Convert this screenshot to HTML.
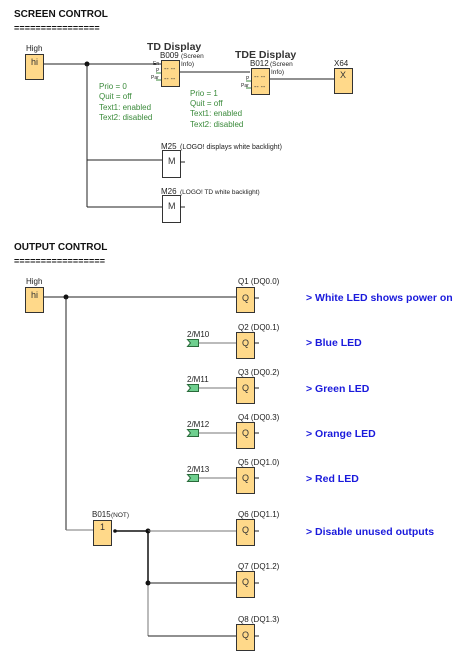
<!DOCTYPE html>
<html><head><meta charset="utf-8"><style>
html,body{margin:0;padding:0;background:#fff;}
svg{display:block;font-family:"Liberation Sans",Arial,sans-serif;}
.t{font-size:10px;font-weight:bold;fill:#111}
.eq{font-size:9px;font-weight:bold;fill:#111;letter-spacing:0.1px}
.l{font-size:8px;fill:#222}
.s{font-size:6.5px;fill:#222}
.g{font-size:8px;fill:#3a8a3a}
.b{font-size:10.5px;font-weight:bold;fill:#1a1adc}
.y{fill:#ffd98a;stroke:#333;stroke-width:1}
.w{fill:#fff;stroke:#333;stroke-width:1}
.ln{stroke:#222;stroke-width:1;fill:none}
.lg{stroke:#777;stroke-width:1;fill:none}
.bx{font-size:9px;fill:#333}
.c{fill:#6fd08f;stroke:#2a6a3a;stroke-width:1}
</style></head><body>
<svg width="468" height="672" viewBox="0 0 468 672">
<text x="14" y="17" class="t">SCREEN CONTROL</text>
<text x="14" y="31" class="eq">================</text>

<text x="26" y="51" class="l">High</text>
<rect x="25.5" y="54.5" width="18" height="25" class="y"/>
<text x="31" y="65" class="bx">hi</text>
<line x1="44" y1="64" x2="161" y2="64" class="ln"/>
<circle cx="87" cy="64" r="2.5" fill="#111"/>
<line x1="87" y1="64" x2="87" y2="207" class="ln"/>
<line x1="87" y1="160" x2="162" y2="160" class="ln"/>
<line x1="87" y1="207" x2="162" y2="207" class="ln"/>

<text x="147" y="50" style="font-size:10.5px;font-weight:bold;fill:#333">TD Display</text>
<text x="160" y="58" class="l">B009</text><text x="181" y="58" class="s">(Screen</text>
<text x="181" y="66" class="s">Info)</text>
<rect x="161.5" y="60.5" width="18" height="26" class="y"/>
<text x="153" y="65" class="s" style="font-size:5px">En</text>
<text x="156" y="72" class="s" style="font-size:5px">P</text>
<text x="151" y="79" class="s" style="font-size:5px">Par</text>
<line x1="156" y1="73" x2="161" y2="73" stroke="#3a8a3a"/>
<line x1="156" y1="80" x2="161" y2="80" stroke="#3a8a3a"/>
<text x="164" y="71" class="bx" style="font-size:7px">-- --</text>
<text x="164" y="81" class="bx" style="font-size:7px">-- --</text>
<line x1="180" y1="72" x2="250" y2="72" class="ln"/>

<text x="99" y="89" class="g">Prio = 0</text>
<text x="99" y="99" class="g">Quit = off</text>
<text x="99" y="110" class="g">Text1: enabled</text>
<text x="99" y="120" class="g">Text2: disabled</text>
<text x="190" y="96" class="g">Prio = 1</text>
<text x="190" y="106" class="g">Quit = off</text>
<text x="190" y="116" class="g">Text1: enabled</text>
<text x="190" y="127" class="g">Text2: disabled</text>

<text x="235" y="58" style="font-size:10.5px;font-weight:bold;fill:#333">TDE Display</text>
<text x="250" y="66" class="l">B012</text><text x="270" y="66" class="s">(Screen</text>
<text x="271" y="74" class="s">Info)</text>
<rect x="251.5" y="68.5" width="18" height="26" class="y"/>
<text x="246" y="80" class="s" style="font-size:5px">P</text>
<text x="241" y="87" class="s" style="font-size:5px">Par</text>
<line x1="246" y1="81" x2="251" y2="81" stroke="#3a8a3a"/>
<line x1="246" y1="88" x2="251" y2="88" stroke="#3a8a3a"/>
<text x="254" y="79" class="bx" style="font-size:7px">-- --</text>
<text x="254" y="89" class="bx" style="font-size:7px">-- --</text>
<line x1="270" y1="79" x2="334" y2="79" class="ln"/>
<text x="334" y="66" class="l">X64</text>
<rect x="334.5" y="68.5" width="18" height="25" class="y"/>
<text x="340" y="78" class="bx">X</text>

<text x="161" y="149" class="l">M25</text><text x="180" y="149" class="s" style="font-size:7px">(LOGO! displays white backlight)</text>
<rect x="162.5" y="150.5" width="18" height="27" class="w"/>
<text x="168" y="164" class="bx">M</text>
<line x1="180" y1="162" x2="185" y2="162" class="ln"/>
<text x="161" y="194" class="l">M26</text><text x="180" y="194" class="s">(LOGO! TD white backlight)</text>
<rect x="162.5" y="195.5" width="18" height="27" class="w"/>
<text x="168" y="209" class="bx">M</text>
<line x1="180" y1="207" x2="185" y2="207" class="ln"/>

<text x="14" y="250" class="t">OUTPUT CONTROL</text>
<text x="14" y="264" class="eq">=================</text>

<text x="26" y="284" class="l">High</text>
<rect x="25.5" y="287.5" width="18" height="25" class="y"/>
<text x="31" y="298" class="bx">hi</text>
<line x1="44" y1="297" x2="236" y2="297" class="ln"/>
<circle cx="66" cy="297" r="2.5" fill="#111"/>
<line x1="66" y1="297" x2="66" y2="530" class="ln"/>
<line x1="66" y1="530" x2="93" y2="530" class="lg"/>

<g>
<text x="238" y="284" class="l">Q1 (DQ0.0)</text>
<rect x="236.5" y="287.5" width="18" height="25" class="y"/><text x="242" y="301" class="bx">Q</text>
<line x1="254" y1="298" x2="259" y2="298" class="ln"/>
<text x="306" y="301" class="b">&gt; White LED shows power on</text>
</g>

<g>
<text x="238" y="330" class="l">Q2 (DQ0.1)</text>
<rect x="236.5" y="332.5" width="18" height="26" class="y"/><text x="242" y="346" class="bx">Q</text>
<line x1="254" y1="343" x2="259" y2="343" class="ln"/>
<line x1="198" y1="343" x2="236" y2="343" class="lg"/>
<path d="M187.5 339.5 H198.5 V346.5 H187.5 L190.5 343 Z" class="c"/>
<text x="187" y="337" class="l">2/M10</text>
<text x="306" y="346" class="b">&gt; Blue LED</text>
</g>
<g>
<text x="238" y="375" class="l">Q3 (DQ0.2)</text>
<rect x="236.5" y="377.5" width="18" height="26" class="y"/><text x="242" y="391" class="bx">Q</text>
<line x1="254" y1="388" x2="259" y2="388" class="ln"/>
<line x1="198" y1="388" x2="236" y2="388" class="lg"/>
<path d="M187.5 384.5 H198.5 V391.5 H187.5 L190.5 388 Z" class="c"/>
<text x="187" y="382" class="l">2/M11</text>
<text x="306" y="392" class="b">&gt; Green LED</text>
</g>
<g>
<text x="238" y="420" class="l">Q4 (DQ0.3)</text>
<rect x="236.5" y="422.5" width="18" height="26" class="y"/><text x="242" y="436" class="bx">Q</text>
<line x1="254" y1="433" x2="259" y2="433" class="ln"/>
<line x1="198" y1="433" x2="236" y2="433" class="lg"/>
<path d="M187.5 429.5 H198.5 V436.5 H187.5 L190.5 433 Z" class="c"/>
<text x="187" y="427" class="l">2/M12</text>
<text x="306" y="437" class="b">&gt; Orange LED</text>
</g>
<g>
<text x="238" y="465" class="l">Q5 (DQ1.0)</text>
<rect x="236.5" y="467.5" width="18" height="26" class="y"/><text x="242" y="481" class="bx">Q</text>
<line x1="254" y1="478" x2="259" y2="478" class="ln"/>
<line x1="198" y1="478" x2="236" y2="478" class="lg"/>
<path d="M187.5 474.5 H198.5 V481.5 H187.5 L190.5 478 Z" class="c"/>
<text x="187" y="472" class="l">2/M13</text>
<text x="306" y="482" class="b">&gt; Red LED</text>
</g>

<text x="92" y="517" class="l">B015</text><text x="111" y="517" class="s">(NOT)</text>
<rect x="93.5" y="520.5" width="18" height="25" class="y"/><text x="100" y="530" class="bx">1</text>
<circle cx="115" cy="531" r="1.8" fill="#111"/>
<line x1="115" y1="531" x2="148" y2="531" stroke="#111" stroke-width="1.5"/>
<circle cx="148" cy="531" r="2.5" fill="#111"/>
<line x1="148" y1="531" x2="236" y2="531" class="lg"/>
<line x1="148" y1="531" x2="148" y2="583" stroke="#111" stroke-width="1.5"/>
<line x1="148" y1="583" x2="148" y2="636" class="lg"/>
<circle cx="148" cy="583" r="2.5" fill="#111"/>
<line x1="148" y1="583" x2="236" y2="583" class="ln"/>
<line x1="148" y1="636" x2="236" y2="636" class="ln"/>

<text x="238" y="517" class="l">Q6 (DQ1.1)</text>
<rect x="236.5" y="519.5" width="18" height="26" class="y"/><text x="242" y="533" class="bx">Q</text>
<line x1="254" y1="531" x2="259" y2="531" class="ln"/>
<text x="306" y="535" class="b">&gt; Disable unused outputs</text>
<text x="238" y="569" class="l">Q7 (DQ1.2)</text>
<rect x="236.5" y="571.5" width="18" height="26" class="y"/><text x="242" y="585" class="bx">Q</text>
<line x1="254" y1="583" x2="259" y2="583" class="ln"/>
<text x="238" y="622" class="l">Q8 (DQ1.3)</text>
<rect x="236.5" y="624.5" width="18" height="26" class="y"/><text x="242" y="638" class="bx">Q</text>
<line x1="254" y1="636" x2="259" y2="636" class="ln"/>
</svg>
</body></html>
